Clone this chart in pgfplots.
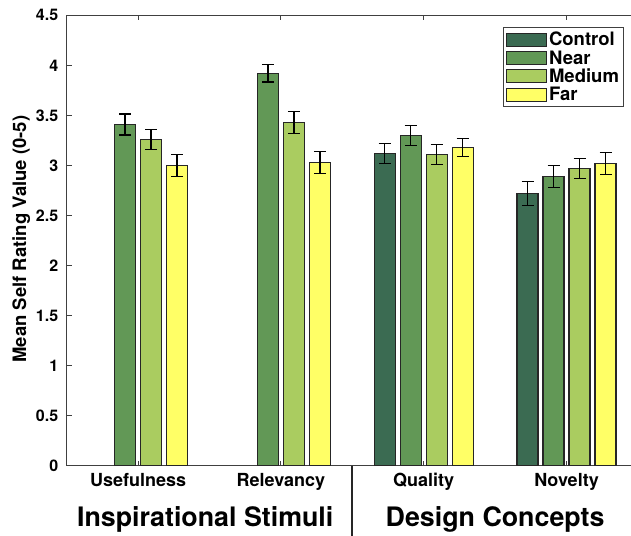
\documentclass[border=0pt]{standalone}
\usepackage{pgfplots}
\pgfplotsset{compat=1.18}
\usepackage{fontspec}
\setmainfont{TeX Gyre Heros}
\definecolor{cControl}{RGB}{59,107,82}
\definecolor{cNear}{RGB}{98,152,86}
\definecolor{cMedium}{RGB}{170,204,96}
\definecolor{cFar}{RGB}{255,255,102}
\pgfplotsset{mybar/.style={fill=#1, draw=black!85, line width=1.2pt,
  legend image code/.code={\draw[fill=#1,draw=black!85,line width=1pt] (0pt,-6.5pt) rectangle (40pt,6.5pt);}}}
\begin{document}
\begin{tikzpicture}
\useasboundingbox (-66.7pt,-69.3pt) rectangle (564.3pt,465.7pt);
\clip (-66.7pt,-69.3pt) rectangle (564.3pt,465.7pt);
\begin{axis}[
  scale only axis, width=571.2pt, height=450.4pt,
  xmin=0.5, xmax=4.5, ymin=0, ymax=4.5,
  clip=false,
  ybar=5pt, bar width=21pt,
  xtick={1,2,3,4}, xticklabels={Usefulness,Relevancy,Quality,Novelty},
  ytick={0,0.5,1,1.5,2,2.5,3,3.5,4,4.5},
  tick align=inside, major tick length=5pt,
  ytick pos=left, xtick pos=both,
  axis line style={draw=black!75, line width=1.3pt},
  every tick/.style={draw=black!75, line width=1pt},
  /pgf/number format/assume math mode=true,
  yticklabel style={font=\fontsize{16}{16}\selectfont\bfseries, xshift=-5pt},
  xticklabel style={font=\fontsize{18}{18}\selectfont\bfseries, anchor=base, yshift=-21pt},
  ylabel={Mean Self Rating Value (0-5)},
  ylabel style={font=\fontsize{18.5}{18.5}\selectfont\bfseries, at={(axis description cs:-0.0795,0.503)}, anchor=center},
  error bars/error bar style={line width=1.3pt, black},
  error bars/error mark options={rotate=90, mark size=6pt, line width=1.3pt, black},
  legend cell align=left,
  legend style={at={(axis cs:4.403,4.383)}, anchor=north east, draw=black!75, line width=1pt,
    font=\fontsize{18.5}{18.5}\selectfont\bfseries, inner sep=3pt, row sep=0pt,
    nodes={inner sep=1.6pt}},
]
\addplot+[mybar=cControl, error bars/.cd, y dir=both, y explicit] coordinates {
  (3,3.12) +- (0,0.10)
  (4,2.72) +- (0,0.12)
};
\addplot+[mybar=cNear, error bars/.cd, y dir=both, y explicit] coordinates {
  (1,3.41) +- (0,0.105)
  (2,3.92) +- (0,0.085)
  (3,3.30) +- (0,0.10)
  (4,2.89) +- (0,0.11)
};
\addplot+[mybar=cMedium, error bars/.cd, y dir=both, y explicit] coordinates {
  (1,3.26) +- (0,0.10)
  (2,3.43) +- (0,0.11)
  (3,3.11) +- (0,0.10)
  (4,2.97) +- (0,0.10)
};
\addplot+[mybar=cFar, error bars/.cd, y dir=both, y explicit] coordinates {
  (1,3.00) +- (0,0.11)
  (2,3.03) +- (0,0.11)
  (3,3.18) +- (0,0.09)
  (4,3.02) +- (0,0.11)
};
\legend{Control,Near,Medium,Far}
\node[anchor=base, font=\fontsize{26.8}{26.8}\selectfont\bfseries] at ([yshift=-60.3pt]axis cs:1.47,0) {Inspirational Stimuli};
\node[anchor=base, font=\fontsize{26.8}{26.8}\selectfont\bfseries] at ([yshift=-60.3pt]axis cs:3.5,0) {Design Concepts};
\draw[black!85, line width=1.8pt] (axis cs:2.5,0) -- ([yshift=-80pt]axis cs:2.5,0);
\end{axis}
\end{tikzpicture}
\end{document}
